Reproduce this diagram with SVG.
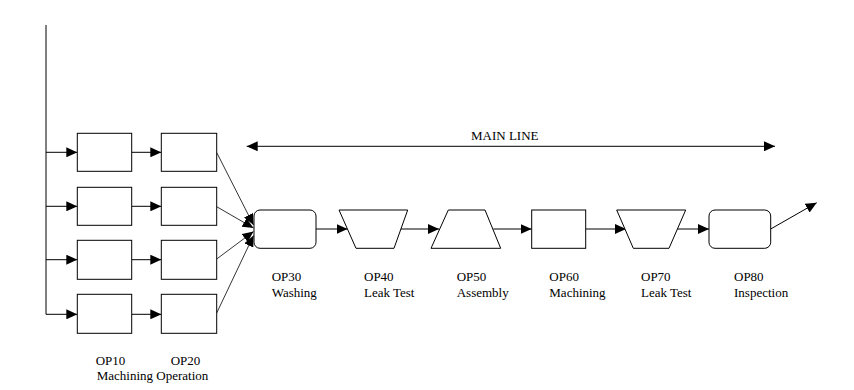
<svg xmlns="http://www.w3.org/2000/svg" width="854" height="390" viewBox="0 0 854 390">
<defs>
<marker id="ah" markerUnits="userSpaceOnUse" markerWidth="11" markerHeight="10" viewBox="0 0 11 10" refX="11" refY="5" orient="auto-start-reverse">
<path d="M0,0 L11,5 L0,10 Z" fill="#000"/>
</marker>
</defs>
<style>
.n{fill:#fff;stroke:#000;stroke-width:1}
.c{fill:none;stroke:#000;stroke-width:1}
.d{fill:none;stroke:#000;stroke-width:0.8}
.t{font-family:'Liberation Serif','Times New Roman',serif;font-size:13px;fill:#000}
</style>
<rect width="854" height="390" fill="#fff"/>
<g id="connectors">
<path class="c" d="M46,25 V314.3"/>
<path class="c" d="M46,152.3 H77.3" marker-end="url(#ah)"/>
<path class="c" d="M46,206.3 H77.3" marker-end="url(#ah)"/>
<path class="c" d="M46,259.7 H77.3" marker-end="url(#ah)"/>
<path class="c" d="M46,314.3 H77.3" marker-end="url(#ah)"/>
<path class="c" d="M131.7,152.3 H161.3" marker-end="url(#ah)"/>
<path class="c" d="M131.7,206.3 H161.3" marker-end="url(#ah)"/>
<path class="c" d="M131.7,259.7 H161.3" marker-end="url(#ah)"/>
<path class="c" d="M131.7,314.3 H161.3" marker-end="url(#ah)"/>
<path class="d" d="M216.7,152.5 L253.5,225" marker-end="url(#ah)"/>
<path class="d" d="M216.7,206.7 L253.5,228" marker-end="url(#ah)"/>
<path class="d" d="M216.7,259 L253.5,231.5" marker-end="url(#ah)"/>
<path class="d" d="M216.7,313 L253.5,235.5" marker-end="url(#ah)"/>
<path class="c" d="M316,229 H347.5" marker-end="url(#ah)"/>
<path class="c" d="M400,229 H439" marker-end="url(#ah)"/>
<path class="c" d="M493.3,229 H531.7" marker-end="url(#ah)"/>
<path class="c" d="M585.7,229 H626" marker-end="url(#ah)"/>
<path class="c" d="M677.3,229 H709" marker-end="url(#ah)"/>
<path class="c" d="M770.7,229 L816.7,202.7" marker-end="url(#ah)"/>
<path class="c" d="M246.7,146.3 H775" marker-start="url(#ah)" marker-end="url(#ah)"/>
</g>
<g id="op10-1"><rect class="n" x="77.3" y="133.3" width="54.4" height="38"/></g>
<g id="op10-2"><rect class="n" x="77.3" y="187.3" width="54.4" height="38"/></g>
<g id="op10-3"><rect class="n" x="77.3" y="240.3" width="54.4" height="39"/></g>
<g id="op10-4"><rect class="n" x="77.3" y="294.3" width="54.4" height="39"/></g>
<g id="op20-1"><rect class="n" x="161.3" y="133.3" width="55.4" height="38"/></g>
<g id="op20-2"><rect class="n" x="161.3" y="187.3" width="55.4" height="38"/></g>
<g id="op20-3"><rect class="n" x="161.3" y="240.3" width="55.4" height="39"/></g>
<g id="op20-4"><rect class="n" x="161.3" y="294.3" width="55.4" height="39"/></g>
<g font-family="'Liberation Serif', 'Times New Roman', serif" font-size="13">
<g id="op30"><rect class="n" x="254" y="210" width="62" height="38.3" rx="6" ry="6"/><text class="t" x="271.7" y="281">OP30</text><text class="t" x="271.7" y="297">Washing</text></g>
<g id="op40"><path class="n" d="M339,210 L407.7,210 L394,248.3 L356,248.3 Z"/><text class="t" x="364" y="281">OP40</text><text class="t" x="364" y="297">Leak Test</text></g>
<g id="op50"><path class="n" d="M448.3,210 L485,210 L500.7,248.3 L431,248.3 Z"/><text class="t" x="456.7" y="281">OP50</text><text class="t" x="456.7" y="297">Assembly</text></g>
<g id="op60"><rect class="n" x="531.7" y="210" width="54" height="38.3"/><text class="t" x="549.3" y="281">OP60</text><text class="t" x="549.3" y="297">Machining</text></g>
<g id="op70"><path class="n" d="M616.7,210 L685.7,210 L669,248.3 L633.3,248.3 Z"/><text class="t" x="641" y="281">OP70</text><text class="t" x="641" y="297">Leak Test</text></g>
<g id="op80"><rect class="n" x="709" y="210" width="61.7" height="38.3" rx="6" ry="6"/><text class="t" x="734" y="281">OP80</text><text class="t" x="734" y="297">Inspection</text></g>
<g id="labels">
<text class="t" x="471" y="140">MAIN LINE</text>
<text class="t" x="95.7" y="365.3">OP10</text>
<text class="t" x="170.7" y="365.3">OP20</text>
<text class="t" x="96.7" y="380">Machining Operation</text>
</g>
</g>
</svg>
